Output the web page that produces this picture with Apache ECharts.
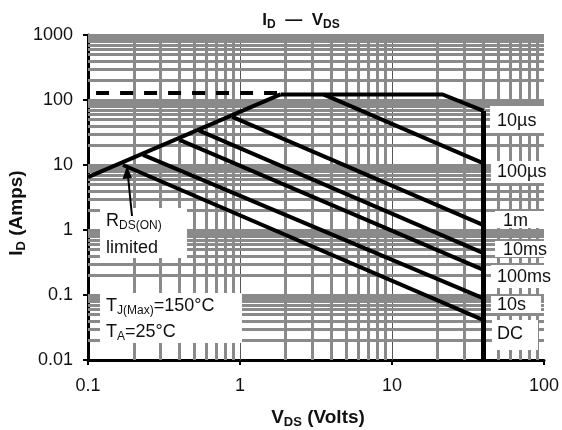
<!DOCTYPE html>
<html>
<head>
<meta charset="utf-8">
<script src="https://cdn.jsdelivr.net/npm/echarts@6/dist/echarts.min.js"></script>
<style>
html,body{margin:0;padding:0;background:#fff;}
#chart{width:562px;height:430px;}
</style>
</head>
<body>
<div id="chart"></div>
<script>
// ---- Data ----
const xTickValues = [0.1, 1, 10, 100];
const xTickLabels = ['0.1', '1', '10', '100'];
const yTickValues = [0.01, 0.1, 1, 10, 100, 1000];
const yTickLabels = ['0.01', '0.1', '1', '10', '100', '1000'];

// RDS(ON) limit line
const rdsV = [0.1, 1.85];
const rdsI = [6.5, 122];
// package (dashed) limit
const pkgV = [0.113, 1.85];
const pkgI = [128, 128];
// 10us envelope (current plateau then slope)
const tenUsV = [1.85, 21.5, 40];
const tenUsI = [122, 122, 68];
// breakdown voltage limit (vertical)
const bvV = [40, 40];
const bvI = [68, 0.01];
// pulse lines
const hundredUsV = [3.54, 40];
const hundredUsI = [122, 10.6];
const oneMsV = [0.89, 40];
const oneMsI = [55, 1.19];
const tenMsV = [0.53, 40];
const tenMsI = [34.5, 0.44];
const hundredMsV = [0.40, 40];
const hundredMsI = [24.3, 0.243];
const tenSV = [0.23, 40];
const tenSI = [14.3, 0.089];
const dcV = [0.17, 40];
const dcI = [10, 0.041];

const pulseLabels = ['10\u00b5s', '100\u00b5s', '1m', '10ms', '100ms', '10s', 'DC'];

// ---- helpers ----
function pairs(xs, ys) { return xs.map((x, i) => [x, ys[i]]); }
const FONT = '"Liberation Sans", Arial, Helvetica, sans-serif';
const GRID_GRAY = '#8a8a8a';

// grid lines (log minor 2..9 per decade)
const minorMult = [2, 3, 4, 5, 6, 7, 8, 9];
const vMinor = [];
for (let k = -1; k <= 1; k++) minorMult.forEach(m => vMinor.push(+(m * Math.pow(10, k)).toPrecision(3)));
const vMajor = [1, 10];
const hLines = [];
for (let k = -2; k <= 2; k++) {
  minorMult.forEach(m => hLines.push(+(m * Math.pow(10, k)).toPrecision(3)));
  if (k > -2) hLines.push(+Math.pow(10, k).toPrecision(3));
}
hLines.push(1000);

function blackLine(name, xs, ys, width, dash) {
  return {
    name: name, type: 'line', data: pairs(xs, ys), symbol: 'none', silent: true,
    lineStyle: { color: '#000', width: width || 4, type: dash || 'solid', join: 'miter', cap: 'butt' },
    z: 5, animation: false
  };
}

function labelFmt(values, labels) {
  return function (v) {
    const e = Math.round(Math.log10(v));
    for (let i = 0; i < values.length; i++) if (Math.round(Math.log10(values[i])) === e) return labels[i];
    return '';
  };
}

const chart = echarts.init(document.getElementById('chart'), null, { renderer: 'canvas' });

const axisCommon = {
  type: 'log', logBase: 10,
  axisLine: { show: true, lineStyle: { color: '#000', width: 3 } },
  axisTick: { show: true, length: 5, lineStyle: { color: '#000', width: 2 } },
  splitLine: { show: false },
  minorTick: { show: false },
  minorSplitLine: { show: false },
  axisLabel: { fontSize: 18, fontFamily: FONT, color: '#111' }
};

const option = {
  animation: false,
  backgroundColor: '#fff',
  grid: { left: 88, right: 15, top: 35, bottom: 70, containLabel: false },
  xAxis: Object.assign({}, axisCommon, {
    min: 0.1, max: 100,
    axisLabel: Object.assign({}, axisCommon.axisLabel, { margin: 17, formatter: labelFmt(xTickValues, xTickLabels) })
  }),
  yAxis: Object.assign({}, axisCommon, {
    min: 0.01, max: 1000,
    axisLabel: Object.assign({}, axisCommon.axisLabel, { margin: 15, formatter: labelFmt(yTickValues, yTickLabels) })
  }),
  series: [
    {
      name: 'grid', type: 'line', data: [], silent: true, z: 1, animation: false,
      markLine: {
        silent: true, symbol: ['none', 'none'], animation: false,
        label: { show: false },
        data: []
          .concat(vMinor.map(v => ({ xAxis: v, lineStyle: { color: GRID_GRAY, width: 3, type: 'solid' } })))
          .concat(vMajor.map(v => ({ xAxis: v, lineStyle: { color: '#555', width: 1, type: 'solid' } })))
          .concat(hLines.map(v => ({ yAxis: v, lineStyle: { color: GRID_GRAY, width: 3, type: 'solid' } })))
      }
    },
    blackLine('RDS(ON)', rdsV, rdsI, 4),
    blackLine('package', pkgV, pkgI, 4, [13, 11]),
    blackLine('10us', tenUsV, tenUsI, 4),
    blackLine('BV', bvV, bvI, 5),
    blackLine('100us', hundredUsV, hundredUsI, 4),
    blackLine('1ms', oneMsV, oneMsI, 4),
    blackLine('10ms', tenMsV, tenMsI, 4),
    blackLine('100ms', hundredMsV, hundredMsI, 4),
    blackLine('10s', tenSV, tenSI, 4),
    blackLine('DC', dcV, dcI, 4)
  ]
};

// ---- annotation boxes and text ----
const boxes = [
  [490, 106, 58, 27], [491, 161, 60, 22], [495, 211, 50, 17], [495, 241, 52, 16],
  [491, 265, 61, 23], [491, 296, 50, 17], [492, 320, 46, 30],
  [100, 208, 87, 50], [100, 293, 142, 50]
];
const pulseLabelPos = [[497, 121], [497, 172], [503, 221], [503, 250], [497, 277], [497, 305], [497, 334]];

const sub = { fontSize: 12, fontFamily: FONT, fill: '#111', padding: [10, 0, 0, 0] };
const main = { fontSize: 18, fontFamily: FONT, fill: '#111' };
const subB = { fontSize: 12, fontFamily: FONT, fontWeight: 'bold', fill: '#111', padding: [9, 0, 0, 0] };
const mainB = { fontSize: 17, fontFamily: FONT, fontWeight: 'bold', fill: '#111' };
const subB2 = { fontSize: 13, fontFamily: FONT, fontWeight: 'bold', fill: '#111', padding: [9, 0, 0, 0] };
const mainB2 = { fontSize: 19, fontFamily: FONT, fontWeight: 'bold', fill: '#111' };

const graphic = [];
boxes.forEach(b => graphic.push({ type: 'rect', shape: { x: b[0], y: b[1], width: b[2], height: b[3] }, style: { fill: '#fff' }, z: 10, silent: true }));
pulseLabels.forEach((t, i) => graphic.push({
  type: 'text', x: pulseLabelPos[i][0], y: pulseLabelPos[i][1], z: 11, silent: true,
  style: { text: t, font: '18px ' + FONT, fill: '#111', verticalAlign: 'middle', align: 'left' }
}));
// RDS(ON) limited
graphic.push({ type: 'text', x: 106, y: 221, z: 11, silent: true,
  style: { text: '{m|R}{s|DS(ON)}', rich: { m: main, s: sub }, verticalAlign: 'middle', align: 'left' } });
graphic.push({ type: 'text', x: 106, y: 248, z: 11, silent: true,
  style: { text: 'limited', font: '18px ' + FONT, fill: '#111', verticalAlign: 'middle', align: 'left' } });
// Conditions
graphic.push({ type: 'text', x: 106, y: 306, z: 11, silent: true,
  style: { text: '{m|T}{s|J(Max)}{m|=150\u00b0C}', rich: { m: main, s: sub }, verticalAlign: 'middle', align: 'left' } });
graphic.push({ type: 'text', x: 106, y: 332, z: 11, silent: true,
  style: { text: '{m|T}{s|A}{m|=25\u00b0C}', rich: { m: main, s: sub }, verticalAlign: 'middle', align: 'left' } });
// arrow
graphic.push({ type: 'line', shape: { x1: 132, y1: 216, x2: 128, y2: 176 }, style: { stroke: '#000', lineWidth: 2 }, z: 12, silent: true });
graphic.push({ type: 'polygon', shape: { points: [[127, 166], [122.5, 179], [132, 178]] }, style: { fill: '#000' }, z: 12, silent: true });
// title
graphic.push({ type: 'text', x: 301, y: 20, z: 11, silent: true,
  style: { text: '{m|I}{s|D}{m|  \u2014  V}{s|DS}', rich: { m: mainB, s: subB }, verticalAlign: 'middle', align: 'center' } });
// x axis name
graphic.push({ type: 'text', x: 318, y: 418, z: 11, silent: true,
  style: { text: '{m|V}{s|DS}{m| (Volts)}', rich: { m: mainB2, s: subB2 }, verticalAlign: 'middle', align: 'center' } });
// y axis name
graphic.push({ type: 'text', x: 17, y: 213, rotation: Math.PI / 2, z: 11, silent: true,
  style: { text: '{m|I}{s|D}{m| (Amps)}', rich: { m: mainB2, s: subB2 }, verticalAlign: 'middle', align: 'center' } });

option.graphic = graphic;
chart.setOption(option);
</script>
</body>
</html>
